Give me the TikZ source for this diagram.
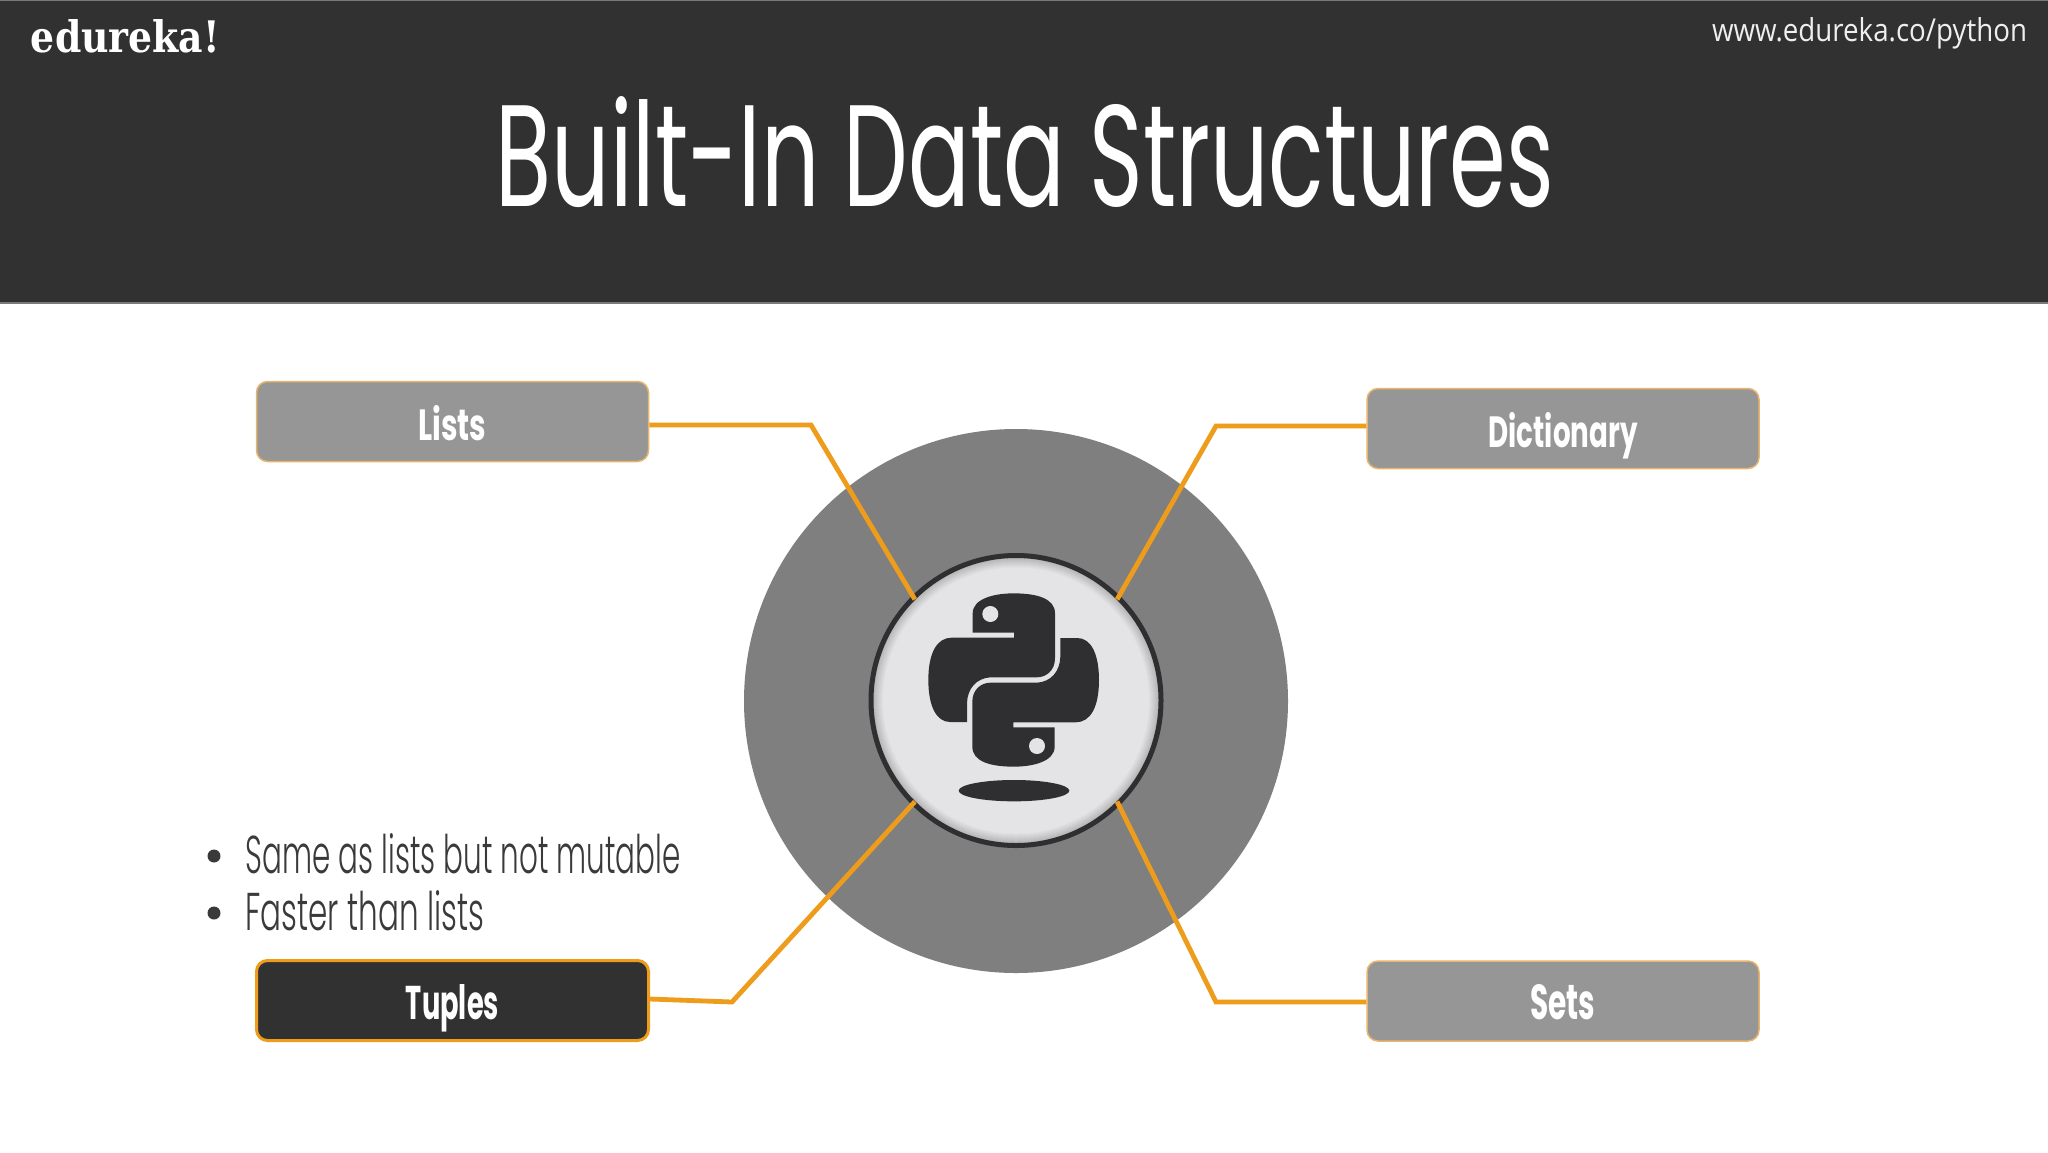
\documentclass[tikz,border=0pt]{standalone}
\usepackage{fontspec}
\usepackage{graphicx}
\newfontfamily\agency{Poppins}
\newfontfamily\agencylight{Poppins Light}
\newfontfamily\slabfont{DejaVu Serif}
\newfontfamily\urlfont{Open Sans}
\definecolor{headbg}{HTML}{313131}
\definecolor{headline}{HTML}{7A7A7A}
\definecolor{ringgray}{HTML}{7F7F7F}
\definecolor{boxgray}{HTML}{969696}
\definecolor{boxedge}{HTML}{E8B56C}
\definecolor{orangeline}{HTML}{EE9C1B}
\definecolor{inkdark}{HTML}{2F2E31}
\definecolor{hubfill}{HTML}{E4E3E6}
\definecolor{hubedge}{HTML}{A8A8A8}
\definecolor{bodytext}{HTML}{3A3A3A}
\definecolor{urlwhite}{HTML}{EFEFEF}
\newcommand{\fitto}[3]{\resizebox{#1pt}{#2pt}{#3}}
\newcommand{\snakepath}{(398,308) -- (398,250) .. controls (398,205) and (465,190) .. (520,190) .. controls (590,190) and (645,205) .. (645,250) -- (645,385) .. controls (645,420) and (620,442) .. (590,442) -- (450,442) .. controls (410,445) and (382,475) .. (381,520) -- (381,576) -- (330,576) .. controls (290,576) and (265,530) .. (265,450) .. controls (265,370) and (290,323) .. (335,323) -- (522,323) -- (522,308) -- cycle}
\tikzset{
  x=1pt,y=-1pt,
  topic/.style={rectangle,rounded corners=11pt,minimum width=392pt,minimum height=80pt,inner sep=0pt,text=white,text height=37pt,text depth=0pt,align=center},
  topicgray/.style={topic,fill=boxgray,draw=boxedge,line width=1.5pt},
  topicdark/.style={topic,fill=headbg,draw=orangeline,line width=3pt},
  link/.style={draw=orangeline,line width=4.8pt,line join=miter},
  plain/.style={inner sep=0pt,outer sep=0pt},
  bulletdot/.style={circle,fill=bodytext,minimum size=13pt,inner sep=0pt},
}
\begin{document}
\begin{tikzpicture}
\useasboundingbox (0,0) rectangle (2048,1152);
\fill[white] (0,0) rectangle (2048,1152);
% header
\fill[headbg] (0,0) rectangle (2048,303);
\draw[headline,line width=2pt] (0,303) -- (2048,303);
\draw[headline,line width=1pt] (0,0.5) -- (2048,0.5);
\node[plain,anchor=base,text=white] (logo) at (125.5,52) {\fitto{189}{33}{\slabfont\bfseries edureka!}};
\node[plain,anchor=base,text=urlwhite] (url) at (1869.5,41) {\fitto{315}{24}{\urlfont www.edureka.co/python}};
\node[plain,anchor=base,text=white] (title) at (1025,206) {\fitto{1058}{110}{\agency Built-In Data Structures}};
% central rings
\node[circle,fill=ringgray,minimum size=544pt,inner sep=0pt] (ring) at (1016,701) {};
\foreach \i in {0,...,13}{
  \pgfmathsetmacro{\pct}{100*\i/13}
  \fill[hubfill!\pct!hubedge] (1016,700.5) circle (146-\i);
}
\node[circle,draw=inkdark,line width=5pt,minimum size=290pt,inner sep=0pt,outer sep=-2pt] (hub) at (1016,700.5) {};
% topic boxes
\node[topicgray] (lists) at (452.5,421.5) {\fitto{68}{35}{\agency\bfseries Lists}};
\node[topicgray] (dict) at (1563,428.5) {\fitto{149}{35}{\agency\bfseries Dictionary}};
\node[topicdark] (tuples) at (452.5,1000.5) {\fitto{93}{35}{\agency\bfseries Tuples}};
\node[topicgray] (sets) at (1563,1001) {\fitto{65}{35}{\agency\bfseries Sets}};
% connectors
\coordinate (bendL) at (811,425);
\coordinate (bendD) at (1216,426);
\coordinate (bendS) at (1216,1002);
\coordinate (bendT) at (732,1002);
\draw[link] (lists.east |- bendL) -- (bendL) -- (hub.135);
\draw[link] (dict.west |- bendD) -- (bendD) -- (hub.45);
\draw[link] (sets.west |- bendS) -- (bendS) -- (hub.-45);
\draw[link] (tuples.east) ++(0,-1.5) -- (bendT) -- (hub.-135);
% python logo
\begin{scope}[shift={(840,530)},scale=0.33333]
  \fill[inkdark] \snakepath;
  \fill[hubfill] (451,252) circle (24);
  \begin{scope}[rotate around={180:(521,450)}]
    \fill[inkdark] \snakepath;
    \fill[hubfill] (451,252) circle (24);
  \end{scope}
  \fill[inkdark] (522,782) ellipse [x radius=166,y radius=32];
\end{scope}
% bullets
\node[bulletdot] (b1) at (214,856) {};
\node[bulletdot] (b2) at (214,913) {};
\node[plain,anchor=base west,text=bodytext] (t1) at (245.5,873) {\fitto{435}{40}{\agencylight Same as lists but not mutable}};
\node[plain,anchor=base west,text=bodytext] (t2) at (245.5,930) {\fitto{239}{40}{\agencylight Faster than lists}};
\end{tikzpicture}
\end{document}
